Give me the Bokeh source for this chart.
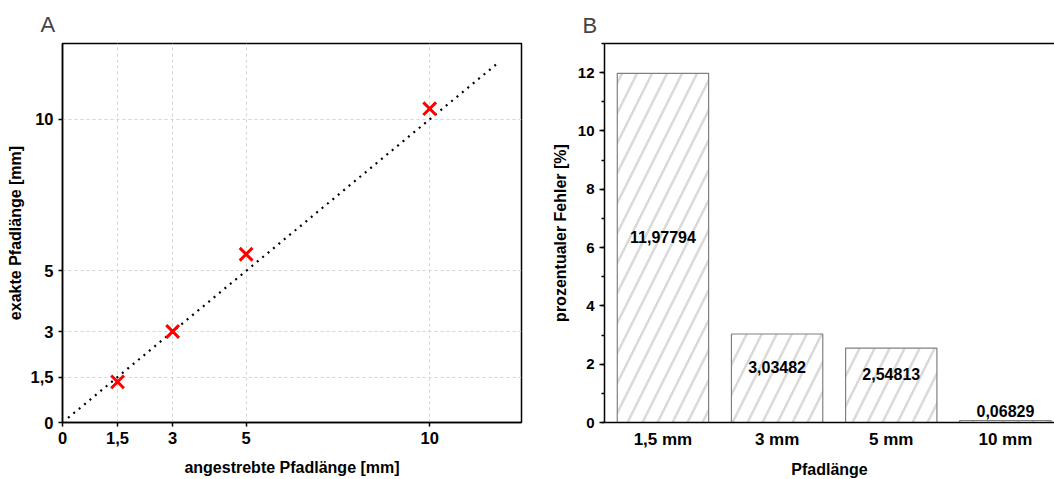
from bokeh.plotting import figure
from bokeh.layouts import row
from bokeh.models import FixedTicker, LinearAxis, Range1d, SingleIntervalTicker, ColumnDataSource
from bokeh.core.properties import value
from bokeh.embed import file_html
from bokeh.resources import INLINE

# ---- data: panel A ----
target_mm = [1.5, 3, 5, 10]
exact_mm = [1.34, 3.0, 5.55, 10.35]
ideal_x = [0.15, 11.87]
ideal_y = [0.15, 11.87]
tick_vals = [0, 1.5, 3, 5, 10]
tick_labels = ["0", "1,5", "3", "5", "10"]

# ---- data: panel B ----
categories = ["1,5 mm", "3 mm", "5 mm", "10 mm"]
error_pct = [11.97794, 3.03482, 2.54813, 0.06829]
error_labels = ["11,97794", "3,03482", "2,54813", "0,06829"]

FONT = "Liberation Sans"


def style_axis(ax, size="16.5px"):
    ax.axis_line_color = "black"
    ax.axis_line_width = 1.5
    ax.major_tick_line_color = "black"
    ax.major_tick_line_width = 1.5
    ax.major_tick_in = 0
    ax.major_tick_out = 4
    ax.minor_tick_line_color = None
    ax.major_label_text_font = FONT
    ax.major_label_text_font_style = "bold"
    ax.major_label_text_font_size = size
    ax.major_label_text_color = "black"
    ax.axis_label_text_font = FONT
    ax.axis_label_text_font_style = "bold"
    ax.axis_label_text_font_size = "16px"
    ax.axis_label_text_color = "black"


# ================= Panel A =================
p1 = figure(frame_width=459, frame_height=379,
            min_border_left=62, min_border_right=9,
            min_border_top=43, min_border_bottom=57,
            x_range=Range1d(0, 12.5), y_range=Range1d(0, 12.5),
            output_backend="svg", toolbar_location=None, title="A")
p1.title.text_font = FONT
p1.title.text_font_size = "22px"
p1.title.text_font_style = "normal"
p1.title.align = "left"
p1.title.offset = -22
p1.title.standoff = 13
p1.outline_line_color = "black"
p1.outline_line_width = 1.5
p1.outline_line_alpha = 1

overrides = {v: t for v, t in zip(tick_vals, tick_labels)}
for ax in (p1.xaxis[0], p1.yaxis[0]):
    style_axis(ax)
    ax.ticker = FixedTicker(ticks=tick_vals)
    ax.major_label_overrides = overrides
    ax.major_label_standoff = 5
p1.xaxis[0].axis_label = "angestrebte Pfadlänge [mm]"
p1.yaxis[0].axis_label = "exakte Pfadlänge [mm]"
p1.xaxis[0].axis_label_standoff = 12
p1.yaxis[0].axis_label_standoff = 4

for g in (p1.xgrid[0], p1.ygrid[0]):
    g.ticker = FixedTicker(ticks=[t for t in tick_vals if t > 0])
    g.grid_line_color = "#d4d4d4"
    g.grid_line_dash = "3 3"
    g.grid_line_width = 1

p1.line(ideal_x, ideal_y, line_color="black", line_width=2.2,
        line_dash="2 5")
p1.scatter(target_mm, exact_mm, marker="x", size=18, line_width=3,
           line_color="#ff0000")

# ================= Panel B =================
positions = [i + 1 for i in range(len(categories))]
src = ColumnDataSource(dict(
    x=positions, top=error_pct, lab=error_labels,
    mid=[v / 2 for v in error_pct]))

p2 = figure(frame_width=450, frame_height=379,
            min_border_left=74, min_border_right=0,
            min_border_top=43, min_border_bottom=57,
            x_range=Range1d(0.488, 4.43), y_range=Range1d(0, 13),
            output_backend="svg", toolbar_location=None, title="B")
p2.title.text_font = FONT
p2.title.text_font_size = "22px"
p2.title.text_font_style = "normal"
p2.title.align = "left"
p2.title.offset = -22
p2.title.standoff = 11
p2.outline_line_color = None
p2.xgrid.visible = False
p2.ygrid.visible = False

style_axis(p2.xaxis[0], "17px")
p2.xaxis[0].ticker = FixedTicker(ticks=positions)
p2.xaxis[0].major_label_overrides = {p: c for p, c in zip(positions, categories)}
p2.xaxis[0].major_tick_line_color = None
p2.xaxis[0].major_tick_out = 0
p2.xaxis[0].major_label_standoff = 7
p2.xaxis[0].axis_label = "Pfadlänge"
p2.xaxis[0].axis_label_standoff = 9

style_axis(p2.yaxis[0], "15px")
p2.yaxis[0].ticker = SingleIntervalTicker(interval=2, num_minor_ticks=2)
p2.yaxis[0].major_tick_out = 5
p2.yaxis[0].minor_tick_line_color = "black"
p2.yaxis[0].minor_tick_line_width = 1.5
p2.yaxis[0].minor_tick_in = 0
p2.yaxis[0].minor_tick_out = 3
p2.yaxis[0].major_label_standoff = 5
p2.yaxis[0].axis_label = "prozentualer Fehler [%]"
p2.yaxis[0].axis_label_standoff = 6

top_axis = LinearAxis(ticker=FixedTicker(ticks=[]),
                      major_label_text_font_size="0px",
                      major_tick_line_color=None, minor_tick_line_color=None,
                      axis_line_color="black", axis_line_width=1.5)
p2.add_layout(top_axis, "above")

p2.vbar(x="x", top="top", width=0.8, source=src,
        fill_color="white", line_color="#808080", line_width=1.2,
        hatch_pattern="/", hatch_color="#d9d9d9", hatch_weight=2.5,
        hatch_scale=30)
p2.text(x="x", y="mid", text="lab", source=src,
        text_align="center", text_baseline="middle", y_offset=-11,
        text_font=value(FONT), text_font_style="bold",
        text_font_size="16px", text_color="black")

layout = row(p1, p2)
open("out.html", "w").write(file_html(layout, INLINE))
